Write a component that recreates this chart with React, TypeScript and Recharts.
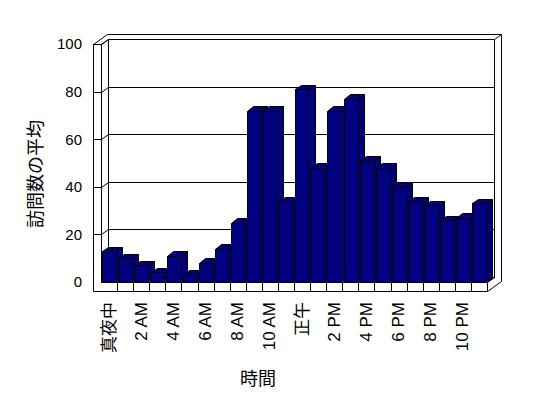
import { BarChart, Bar, XAxis, YAxis, CartesianGrid } from 'recharts';

const hours = [
  '真夜中', '1 AM', '2 AM', '3 AM', '4 AM', '5 AM', '6 AM', '7 AM', '8 AM', '9 AM', '10 AM', '11 AM',
  '正午', '1 PM', '2 PM', '3 PM', '4 PM', '5 PM', '6 PM', '7 PM', '8 PM', '9 PM', '10 PM', '11 PM',
];
const visits = [13, 10, 7, 4, 11, 3, 8, 14, 25, 72, 72, 34, 81, 48, 72, 77, 51, 48, 40, 34, 32, 26, 27, 33];
const yTicks = [0, 20, 40, 60, 80, 100];

const data = hours.map((hour, i) => ({ hour, visits: visits[i] }));

// layout
const W = 548;
const H = 398;
const M = { top: 44, right: 61, bottom: 0, left: 0 };
const Y_AXIS_W = 101;
const X_AXIS_H = 116;
const L = M.left + Y_AXIS_W;
const R = W - M.right;
const T = M.top;
const B = H - M.bottom - X_AXIS_H;
const DX = 7; // wall depth
const DY = -5;
const WALL = 8.5;
const FLOOR = 9;
const BAR_DX = 6;
const BAR_DY = -4.5;
const NAVY = '#000080';
const FONT = '"Liberation Sans", "Noto Sans CJK JP", sans-serif';
const CJK = '"Noto Sans CJK JP", sans-serif';

const c = (v: number) => Math.round(v) + 0.5;
const pts = (arr: number[][]) => arr.map(([x, y]) => `${c(x)},${c(y)}`).join(' ');

function Frame() {
  const band = (R - L) / hours.length;
  return (
    <svg width={W} height={H} style={{ position: 'absolute', left: 0, top: 0 }}>
      <polygon
        points={pts([
          [L - WALL, T],
          [L - WALL + 2 * DX, T + 2 * DY],
          [R + 2 * DX, T + 2 * DY],
          [R + 2 * DX, B + FLOOR + 2 * DY],
          [R, B + FLOOR],
          [L - WALL, B + FLOOR],
        ])}
        fill="#fff"
        stroke="#000"
      />
      <g fill="none" stroke="#000">
        <polyline points={pts([[L - WALL, T], [L, T], [L + DX, T + DY], [R + DX, T + DY], [R + 2 * DX, T + 2 * DY]])} />
        <polyline points={pts([[L, T], [L, B]])} />
        <polyline points={pts([[L + DX, T + DY], [L + DX, B + DY]])} />
        <polyline points={pts([[R + DX, T + DY], [R + DX, B + DY]])} />
        <polyline points={pts([[L, B], [R, B], [R + DX, B + DY]])} />
        <polyline points={pts([[R, B], [R, B + FLOOR]])} />
        <polyline points={pts([[L, B], [L + DX, B + DY], [R + DX, B + DY]])} />
        {hours.slice(1).map((_, i) => (
          <polyline key={i} points={pts([[L + (i + 1) * band, B], [L + (i + 1) * band, B + FLOOR]])} />
        ))}
      </g>
      <text
        x={34}
        y={174}
        transform="rotate(-90 34 174)"
        textAnchor="middle"
        dominantBaseline="central"
        fontSize={18}
        fontFamily={CJK}
      >
        訪問数の平均
      </text>
      <text x={258} y={377} textAnchor="middle" dominantBaseline="central" fontSize={18} fontFamily={CJK}>
        時間
      </text>
    </svg>
  );
}

function Bar3D(props: any) {
  const { x, y, width, height } = props;
  if (!height || height <= 0) return null;
  const x0 = x;
  const x1 = x + width;
  const y0 = y;
  const y1 = y + height;
  return (
    <g stroke="#000" fill={NAVY}>
      <polygon points={pts([[x1, y0], [x1 + BAR_DX, y0 + BAR_DY], [x1 + BAR_DX, y1 + BAR_DY], [x1, y1]])} />
      <polygon points={pts([[x0, y0], [x0 + BAR_DX, y0 + BAR_DY], [x1 + BAR_DX, y0 + BAR_DY], [x1, y0]])} />
      <polygon points={pts([[x0, y0], [x1, y0], [x1, y1], [x0, y1]])} />
    </g>
  );
}

function XTick(props: any) {
  const { x, y, payload } = props;
  return (
    <text
      x={x}
      y={y}
      transform={`rotate(-90 ${x} ${y})`}
      textAnchor="end"
      dominantBaseline="central"
      fontSize={17}
      fontFamily={FONT}
      fill="#000"
    >
      {payload.value}
    </text>
  );
}

function GridLine(p: any) {
  const y = p.y1;
  const line =
    y < B - 1
      ? [[L - WALL, y], [p.x1, y], [p.x1 + DX, y + DY], [p.x2 + DX, y + DY]]
      : [[p.x1 + DX, y + DY], [p.x2 + DX, y + DY]];
  return <polyline key={`g-${p.index}-${y}`} points={pts(line)} fill="none" stroke="#000" />;
}

export default function App() {
  return (
    <div style={{ position: 'fixed', left: 0, top: 0, width: W, height: H, background: '#fff' }}>
      <Frame />
      <div style={{ position: 'absolute', left: 0, top: 0 }}>
        <BarChart width={W} height={H} data={data} margin={M} barCategoryGap="8%">
          <CartesianGrid vertical={false} horizontal={GridLine} />
          <XAxis
            dataKey="hour"
            interval={1}
            height={X_AXIS_H}
            axisLine={false}
            tickLine={false}
            tickSize={0}
            tickMargin={20}
            tick={<XTick />}
          />
          <YAxis
            domain={[0, 100]}
            ticks={yTicks}
            interval={0}
            width={Y_AXIS_W}
            axisLine={false}
            tickLine={false}
            tickSize={0}
            tickMargin={19}
            tick={{ fontSize: 15, fill: '#000', fontFamily: FONT }}
          />
          <Bar dataKey="visits" isAnimationActive={false} shape={(p: any) => <Bar3D {...p} />} />
        </BarChart>
      </div>
    </div>
  );
}
